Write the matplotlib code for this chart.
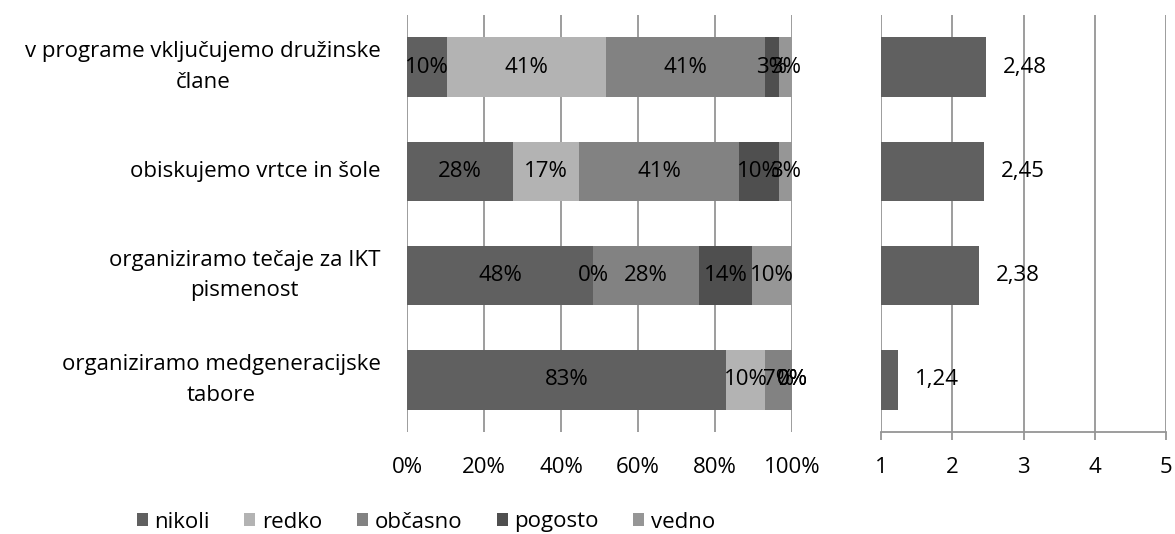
import matplotlib.pyplot as plt
import matplotlib.patches as mpatches
import numpy as np

plt.rcParams["font.family"] = ["Open Sans", "DejaVu Sans"]

# ── Data ──────────────────────────────────────────────────────────────────────
categories = [
    "v programe vključujemo družinske\nčlane",
    "obiskujemo vrtce in šole",
    "organiziramo tečaje za IKT\npismenost",
    "organiziramo medgeneracijske\ntabore",
]
series = ["nikoli", "redko", "občasno", "pogosto", "vedno"]

# share of answers per category (%), columns follow `series`
nikoli  = [10.3, 27.6, 48.3, 82.8]
redko   = [41.4, 17.2,  0.0, 10.3]
obcasno = [41.4, 41.4, 27.6,  6.9]
pogosto = [ 3.4, 10.3, 13.8,  0.0]
vedno   = [ 3.4,  3.4, 10.3,  0.0]

means = [2.48, 2.45, 2.38, 1.24]

colors = ["#606060", "#b3b3b3", "#828282", "#4f4f4f", "#969696"]
grid_c = "#959595"
fs = 16

# ── Figure ────────────────────────────────────────────────────────────────────
fig = plt.figure(figsize=(11.75, 5.34), dpi=100)
ax1 = fig.add_axes([407 / 1175, 102 / 534, 385 / 1175, 417 / 534])
ax2 = fig.add_axes([881 / 1175, 102 / 534, 285 / 1175, 417 / 534])

y = np.arange(len(categories))
bar_h = 0.57

# stacked percentage bars
shares = [nikoli, redko, obcasno, pogosto, vedno]
left = np.zeros(len(categories))
handles = []
for name, vals, col in zip(series, shares, colors):
    vals = np.array(vals)
    ax1.barh(y, vals, left=left, height=bar_h, color=col, zorder=3)
    for xi, yi, v in zip(left + vals / 2, y, vals):
        ax1.text(xi, yi, f"{v:.0f}%", ha="center", va="center",
                 fontsize=fs, color="black", zorder=4)
    left += vals
    handles.append(mpatches.Patch(facecolor=col, label=name))

ax1.set_xlim(0, 100)
ax1.set_ylim(len(categories) - 0.5, -0.5)
ax1.set_xticks(np.arange(0, 101, 20))
ax1.set_xticklabels([f"{t}%" for t in range(0, 101, 20)])
ax1.set_yticks(y)
ax1.set_yticklabels(categories)
for lab in ax1.get_yticklabels():
    lab.set_multialignment("center")
    lab.set_linespacing(1.6)
    lab.set_verticalalignment("center")
ax1.tick_params(axis="y", length=0, pad=19, labelsize=fs)
ax1.tick_params(axis="x", length=0, pad=18, labelsize=fs)
ax1.grid(axis="x", color=grid_c, lw=1.3, zorder=0)
for s in ax1.spines.values():
    s.set_visible(False)

# mean score bars
ax2.barh(y, means, height=bar_h, color=colors[0], zorder=3)
for yi, v in zip(y, means):
    ax2.annotate(f"{v:.2f}".replace(".", ","), (v, yi),
                 textcoords="offset points", xytext=(12, 0),
                 ha="left", va="center", fontsize=fs, zorder=4)
ax2.set_xlim(1, 5)
ax2.set_ylim(len(categories) - 0.5, -0.5)
ax2.set_xticks([1, 2, 3, 4, 5])
ax2.set_yticks([])
ax2.tick_params(axis="x", length=6, width=1.3, color=grid_c, pad=12, labelsize=fs)
ax2.grid(axis="x", color=grid_c, lw=1.3, zorder=0)
for side in ["top", "right", "left"]:
    ax2.spines[side].set_visible(False)
ax2.spines["bottom"].set_color(grid_c)
ax2.spines["bottom"].set_linewidth(1.3)

fig.legend(handles=handles, loc="center", bbox_to_anchor=(426 / 1175, 12 / 534),
           ncol=5, frameon=False, fontsize=fs, handlelength=0.5,
           handleheight=0.5, handletextpad=0.3, columnspacing=1.55)

fig.savefig("out.png", dpi=100)
